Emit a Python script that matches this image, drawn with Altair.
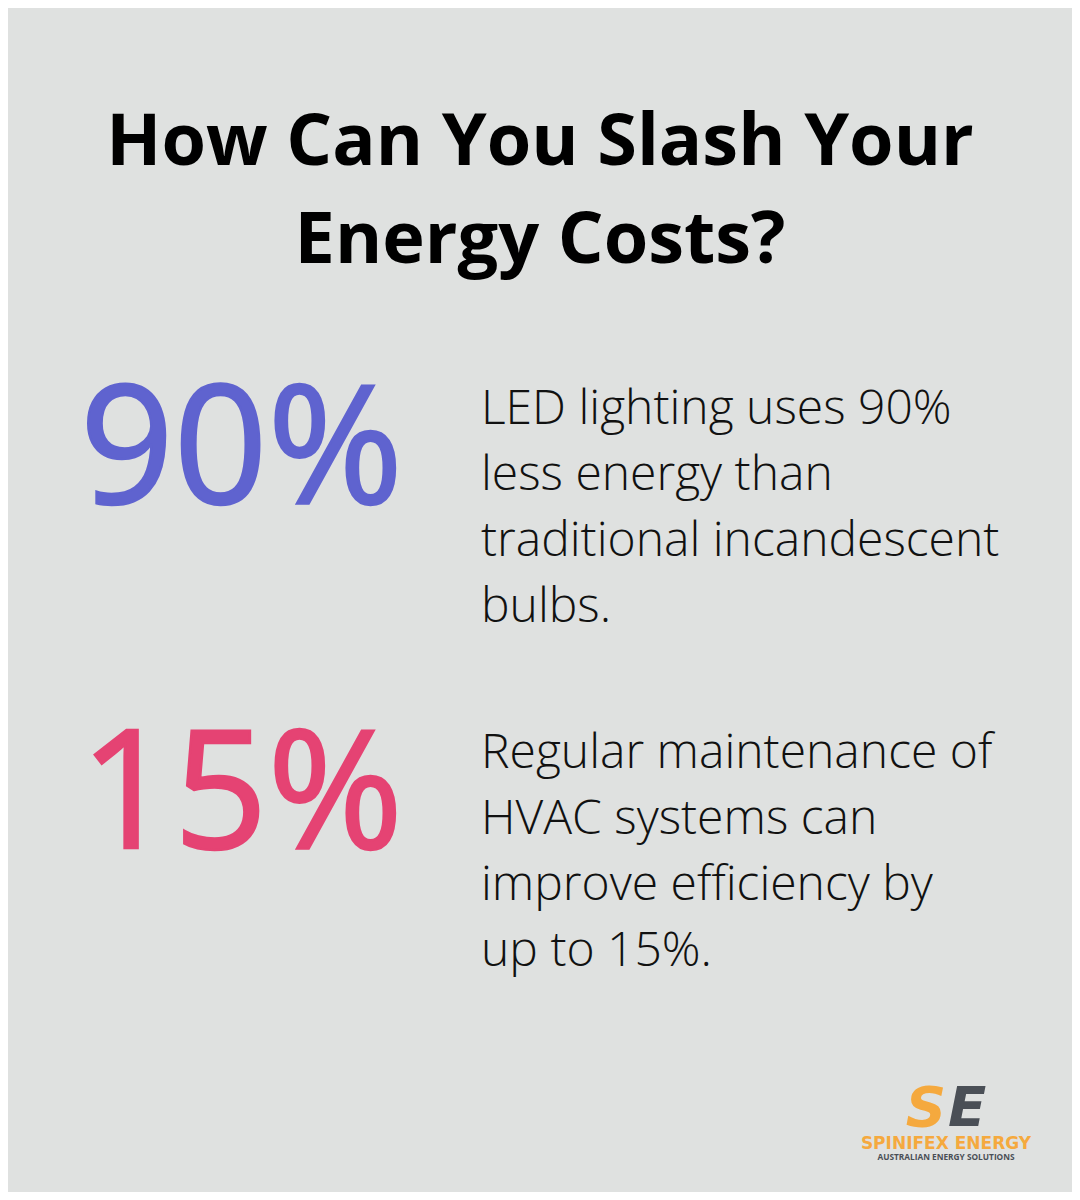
import altair as alt
import pandas as pd

# ---- content ----
title_lines = ["How Can You Slash Your", "Energy Costs?"]
stat_values = ["90%", "15%"]
stat_lines_1 = ["LED lighting uses 90%", "less energy than", "traditional incandescent", "bulbs."]
stat_lines_2 = ["Regular maintenance of", "HVAC systems can", "improve efficiency by", "up to 15%."]
logo_letters = ["S", "E"]
brand_name = "SPINIFEX ENERGY"
brand_tagline = "AUSTRALIAN ENERGY SOLUTIONS"

# ---- style ----
BG = "#DFE1E0"
BLUE = "#5F63CF"
PINK = "#E54373"
ORANGE = "#F5A93E"
SLATE = "#4A4F56"
OFF = 8  # page margin offset

base = alt.Chart(pd.DataFrame({"k": [0]}))


def txt(text, x, y, size, color, weight="normal", align="left", font="Open Sans",
        line_height=None, style=None, stroke_w=None):
    kw = dict(fontSize=size, color=color, fontWeight=weight, align=align,
              baseline="alphabetic", font=font)
    if line_height is not None:
        kw["lineHeight"] = line_height
    if style is not None:
        kw["fontStyle"] = style
    if stroke_w is not None:
        kw["stroke"] = color
        kw["strokeWidth"] = stroke_w
    return base.mark_text(**kw).encode(
        x=alt.value(x - OFF), y=alt.value(y - OFF), text=alt.value(text)
    )


layers = [
    txt(title_lines, 540, 165, 72, "#000000", weight="bold", align="center", line_height=98),
    txt(stat_values[0], 80, 503, 164, BLUE, weight=500, stroke_w=2.5),
    txt(stat_values[1], 80, 848, 164, PINK, weight=500, stroke_w=2.5),
    txt(stat_lines_1, 481, 424, 48, "#111111", weight=300, line_height=66),
    txt(stat_lines_2, 481, 768, 48, "#111111", weight=300, line_height=66),
    txt(logo_letters[0], 926, 1126, 56, ORANGE, weight="bold", align="center",
        font="DejaVu Sans", style="italic"),
    txt(logo_letters[1], 967, 1126, 56, SLATE, weight="bold", align="center",
        font="DejaVu Sans", style="italic"),
    txt(brand_name, 946, 1149, 17, ORANGE, weight="bold", align="center", font="DejaVu Sans"),
    txt(brand_tagline, 946, 1160, 8.3, SLATE, weight="bold", align="center", font="Open Sans"),
]

chart = alt.layer(*layers).properties(
    width=1064, height=1184, background=BG, padding=0,
    autosize=alt.AutoSizeParams(type="none"),
).configure_view(stroke=None)

chart.save("out.html", embed_options={"renderer": "svg", "actions": False})
